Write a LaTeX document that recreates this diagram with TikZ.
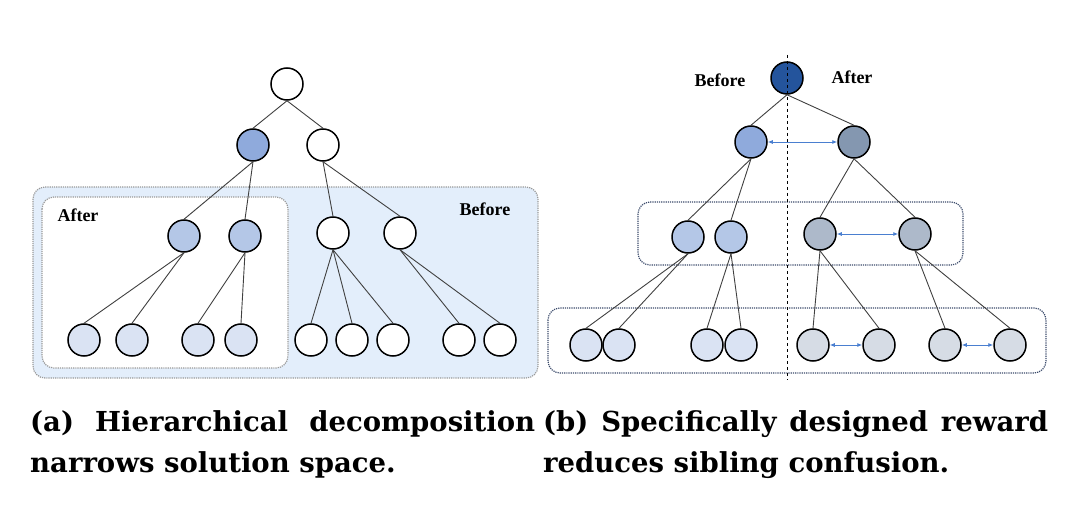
\documentclass[tikz,border=0pt]{standalone}
\usepackage{fontspec}
\setmainfont{Liberation Serif}
\newfontfamily\capfont{DejaVu Serif}
\usetikzlibrary{arrows.meta}
\definecolor{lA}{HTML}{8FAADC}
\definecolor{lB}{HTML}{B4C7E7}
\definecolor{lC}{HTML}{DAE3F3}
\definecolor{gA}{HTML}{8497B0}
\definecolor{gB}{HTML}{ADB9CA}
\definecolor{gC}{HTML}{D6DCE5}
\definecolor{dk}{HTML}{24549C}
\definecolor{bgb}{HTML}{E3EEFB}
\definecolor{arr}{HTML}{4A7FD0}
\definecolor{bx}{HTML}{3A4A6A}
\begin{document}
\begin{tikzpicture}[x=1pt,y=-1pt,
  nd/.style={circle,draw=black,line width=1.5pt,minimum size=32pt,inner sep=0pt},
  ed/.style={draw=black!75,line width=0.9pt},
  ba/.style={draw=arr,line width=0.8pt,{Latex[length=5pt,width=4pt]}-{Latex[length=5pt,width=4pt]}},
  box/.style={rounded corners=12pt,draw=bx,densely dotted,line width=1.2pt},
  lbl/.style={font=\bfseries\fontsize{18}{20}\selectfont},
  captxt/.style={font=\capfont\bfseries\fontsize{27.5}{41}\selectfont,anchor=north west,inner sep=0pt,align=left}]
\useasboundingbox (0,0) rectangle (1080,508);
% left panel
\draw[box,fill=bgb,draw=black!40] (33,187) rectangle (538,378);
\draw[box,fill=white,draw=black!40] (42,197) rectangle (288,368);
\node[lbl] (aft) at (78,215) {After};
\node[lbl] (bef) at (485,209) {Before};
\node[nd,fill=white] (r) at (287,84) {};
\node[nd,fill=lA] (a) at (253,145) {};
\node[nd,fill=white] (b) at (323,145) {};
\node[nd,fill=lB] (a1) at (184,236) {};
\node[nd,fill=lB] (a2) at (245,236) {};
\node[nd,fill=white] (b1) at (333,233) {};
\node[nd,fill=white] (b2) at (400,233) {};
\foreach \n/\x/\p/\f in {c1/84/a1/lC,c2/132/a1/lC,c3/198/a2/lC,c4/241/a2/lC,c5/311/b1/white,c6/352/b1/white,c7/393/b1/white,c8/459/b2/white,c9/500/b2/white}{
  \node[nd,fill=\f] (\n) at (\x,340) {};
  \draw[ed] (\p.south) -- (\n.north);
}
\foreach \p/\c in {r/a,r/b,a/a1,a/a2,b/b1,b/b2}{\draw[ed] (\p.south) -- (\c.north);}
% right panel
\draw[box] (638,202) rectangle (963,265);
\draw[box] (548,308) rectangle (1046,373);
\node[nd,fill=dk] (R) at (787,78) {};
\node[lbl] (Rb) at (720,80) {Before};
\node[lbl] (Ra) at (852,77) {After};
\node[nd,fill=lA] (A) at (751,142) {};
\node[nd,fill=gA] (B) at (854,142) {};
\node[nd,fill=lB] (A1) at (688,237) {};
\node[nd,fill=lB] (A2) at (731,237) {};
\node[nd,fill=gB] (B1) at (820,234) {};
\node[nd,fill=gB] (B2) at (915,234) {};
\foreach \n/\x/\p/\f in {C1/586/A1/lC,C2/619/A1/lC,C3/707/A2/lC,C4/741/A2/lC,C5/813/B1/gC,C6/879/B1/gC,C7/945/B2/gC,C8/1010/B2/gC}{
  \node[nd,fill=\f] (\n) at (\x,345) {};
  \draw[ed] (\p.south) -- (\n.north);
}
\foreach \p/\c in {R/A,R/B,A/A1,A/A2,B/B1,B/B2}{\draw[ed] (\p.south) -- (\c.north);}
\draw[ba] (A) -- (B);
\draw[ba] (B1) -- (B2);
\draw[ba] (C5) -- (C6);
\draw[ba] (C7) -- (C8);
\coordinate (vt) at (787,55);
\coordinate (vb) at (787,380);
\draw[dashed,line width=0.9pt] (vt) -- (vb);
% captions
\node[captxt] (capa) at (30,410) {\makebox[505pt][s]{(a)\ \ Hierarchical\ \ decomposition}\\[0pt]narrows solution space.};
\node[captxt] (capb) at (543,410) {\makebox[505pt][s]{(b) Specifically designed reward}\\[0pt]reduces sibling confusion.};
\end{tikzpicture}
\end{document}
